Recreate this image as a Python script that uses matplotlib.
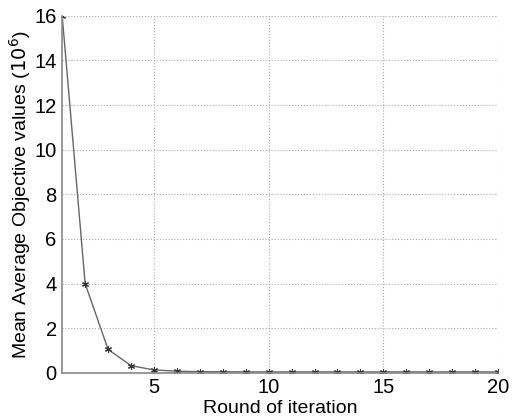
import numpy as np
import matplotlib.pyplot as plt

# Data ========================================================================
rounds = np.arange(1, 21)
mean_obj = [16.0, 4.0, 1.05, 0.32, 0.13, 0.07, 0.05, 0.045, 0.04, 0.04,
            0.04, 0.04, 0.04, 0.04, 0.04, 0.04, 0.04, 0.04, 0.04, 0.04]
x_ticks = [5, 10, 15, 20]
y_ticks = [0, 2, 4, 6, 8, 10, 12, 14, 16]

# Plot ========================================================================
plt.rcParams['font.family'] = ['Liberation Sans', 'DejaVu Sans']
fig = plt.figure(figsize=(5.14, 4.17), dpi=100)
ax = fig.add_axes([0.121, 0.106, 0.848, 0.856])
ax.plot(rounds, mean_obj, color='#666666', lw=1.0, marker=(6, 2, 0),
        markersize=5, markeredgewidth=0.8, markeredgecolor='#333333')
ax.set_xlim(1, 20)
ax.set_ylim(0, 16)
ax.set_xticks(x_ticks)
ax.set_yticks(y_ticks)
ax.grid(True, linestyle=':', color='#aaaaaa', lw=0.8)
for s in ['top', 'right']:
    ax.spines[s].set_visible(False)
for s in ['left', 'bottom']:
    ax.spines[s].set_color('#888888')
    ax.spines[s].set_linewidth(1.2)
ax.tick_params(direction='in', length=0, labelsize=14.5, pad=4)
ax.set_xlabel("Round of iteration", fontsize=14, labelpad=2)
ax.set_ylabel("Mean Average Objective values ($10^6$)", fontsize=14, labelpad=1)
fig.savefig("out.png", dpi=100)
